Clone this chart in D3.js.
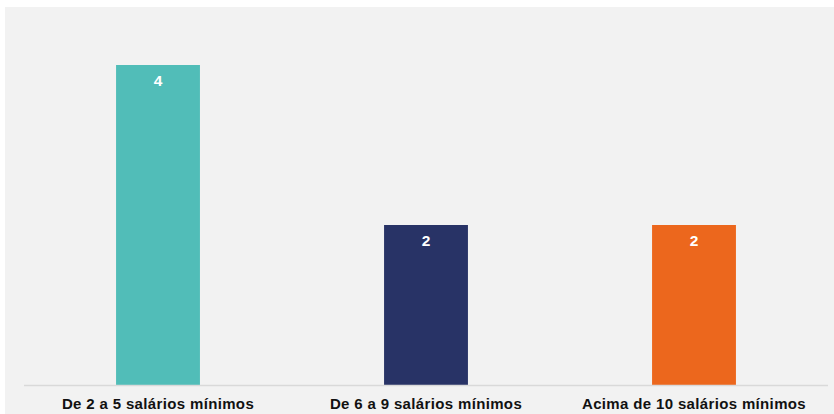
<!DOCTYPE html>
<html>
<head>
<meta charset="utf-8">
<script src="https://cdn.jsdelivr.net/npm/d3@7"></script>
<style>
  html, body { margin: 0; padding: 0; background: #ffffff; }
  svg { display: block; }
</style>
</head>
<body>
<svg id="chart" width="834" height="414"></svg>
<script>
const categories = ["De 2 a 5 salários mínimos", "De 6 a 9 salários mínimos", "Acima de 10 salários mínimos"];
const values = [4, 2, 2];
const colors = ["#51bdb8", "#283366", "#ec671d"];

const W = 834, H = 414;
const svg = d3.select("#chart");

svg.append("rect")
  .attr("x", 5).attr("y", 7)
  .attr("width", W - 5).attr("height", H - 7)
  .attr("fill", "#f2f2f2");

const x = d3.scaleBand().domain(categories).range([24, 828]).paddingInner(0.687).paddingOuter(0.3435);
const y = d3.scaleLinear().domain([0, 4]).range([385, 65]);

svg.selectAll("rect.bar")
  .data(categories)
  .join("rect")
  .attr("class", "bar")
  .attr("x", d => x(d))
  .attr("y", (d, i) => y(values[i]))
  .attr("width", x.bandwidth())
  .attr("height", (d, i) => y(0) - y(values[i]))
  .attr("fill", (d, i) => colors[i]);

svg.append("line")
  .attr("x1", 24).attr("x2", 828)
  .attr("y1", y(0) + 0.5).attr("y2", y(0) + 0.5)
  .attr("stroke", "#d9d9d9").attr("stroke-width", 1.5);

svg.selectAll("text.val")
  .data(categories)
  .join("text")
  .attr("class", "val")
  .attr("x", d => x(d) + x.bandwidth() / 2)
  .attr("y", (d, i) => y(values[i]) + 21)
  .attr("text-anchor", "middle")
  .attr("font-family", "Liberation Sans, Arial, sans-serif")
  .attr("font-weight", "bold")
  .attr("font-size", 15.5)
  .attr("fill", "#ffffff")
  .text((d, i) => values[i]);

svg.selectAll("text.cat")
  .data(categories)
  .join("text")
  .attr("class", "cat")
  .attr("x", d => x(d) + x.bandwidth() / 2)
  .attr("y", 409)
  .attr("text-anchor", "middle")
  .attr("font-family", "Liberation Sans, Arial, sans-serif")
  .attr("font-weight", "bold")
  .attr("font-size", 15)
  .attr("letter-spacing", 0.35)
  .attr("fill", "#111111")
  .text(d => d);
</script>
</body>
</html>
